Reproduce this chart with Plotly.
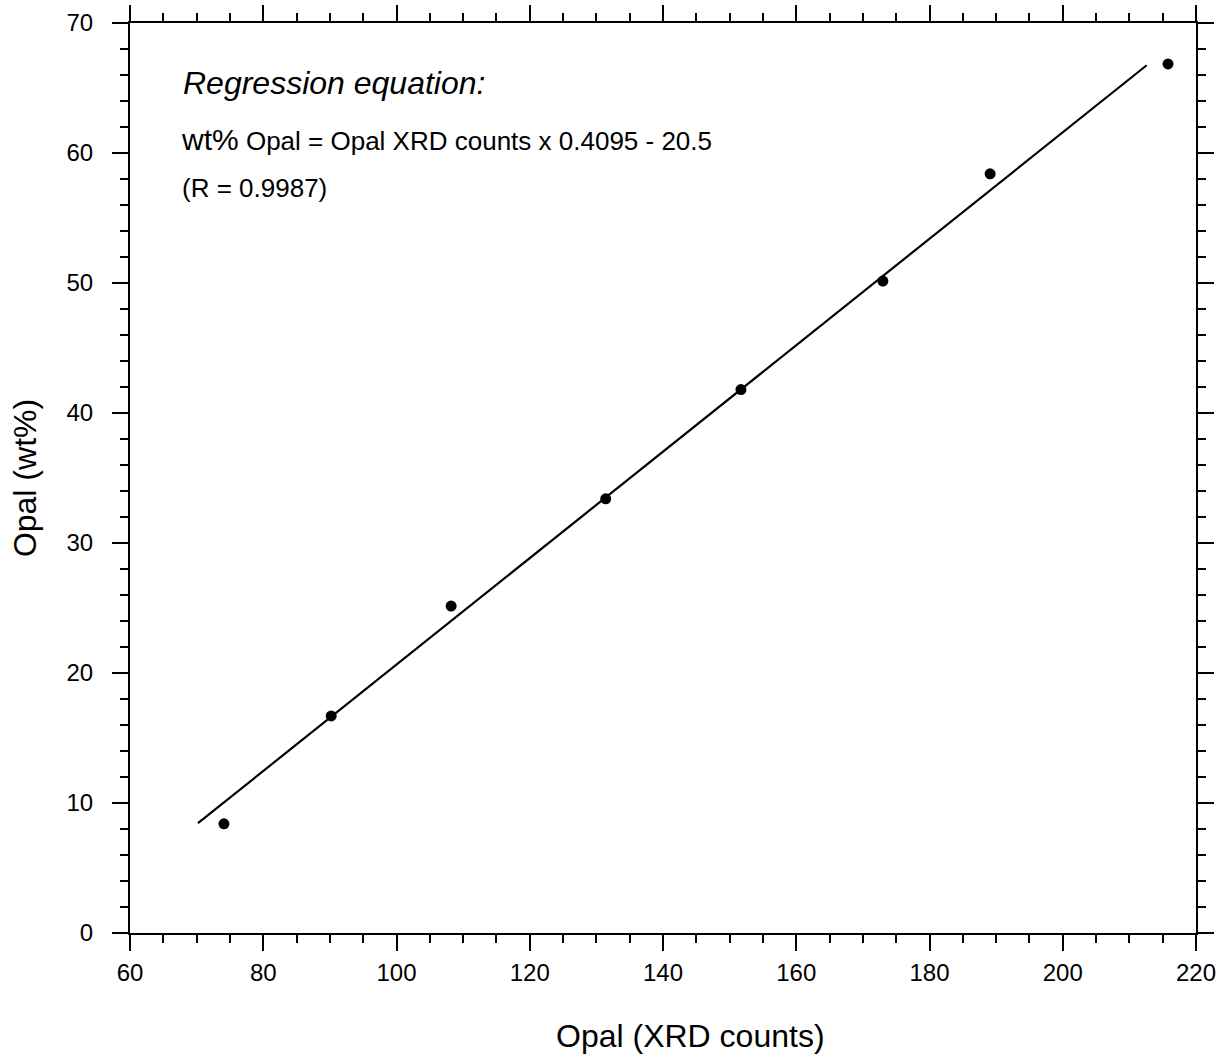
import plotly.graph_objects as go

# Data
xrd_counts = [74.1, 90.2, 108.2, 131.4, 151.7, 173.0, 189.1, 215.8]
opal_wt = [8.4, 16.7, 25.15, 33.4, 41.8, 50.15, 58.4, 66.85]

# Regression line endpoints
fit_x = [70.2, 212.6]
fit_y = [8.45, 66.75]

x_ticks = [60, 80, 100, 120, 140, 160, 180, 200, 220]
y_ticks = [0, 10, 20, 30, 40, 50, 60, 70]

FONT = "Liberation Sans, Arial, Helvetica, sans-serif"

# plot area in pixels (for placing paper-referenced annotations)
L, R, T, B = 130, 1196, 23, 933
def px(xp):
    return (xp - L) / (R - L)
def py(yp):
    return (B - yp) / (B - T)

fig = go.Figure()
fig.add_trace(go.Scatter(x=fit_x, y=fit_y, mode="lines",
                         line=dict(color="black", width=2.2), showlegend=False))
fig.add_trace(go.Scatter(x=xrd_counts, y=opal_wt, mode="markers",
                         marker=dict(color="black", size=11), showlegend=False))

axis_common = dict(
    showgrid=False, zeroline=False, showline=True, linecolor="black", linewidth=2,
    mirror="ticks", ticks="outside", ticklen=16, tickwidth=2, tickcolor="black",
    tickfont=dict(family=FONT, size=24, color="black"),
)

fig.update_xaxes(range=[60, 220], tickvals=x_ticks, ticktext=[str(v) for v in x_ticks],
                 minor=dict(dtick=5, tick0=60, ticks="outside", ticklen=8, tickwidth=2, tickcolor="black"),
                 ticklabelstandoff=1,
                 **axis_common)
fig.update_yaxes(range=[0, 70], tickvals=y_ticks, ticktext=[str(v) for v in y_ticks],
                 minor=dict(dtick=2, tick0=0, ticks="outside", ticklen=8, tickwidth=2, tickcolor="black"),
                 title=dict(text="Opal (wt%)", font=dict(family=FONT, size=32, color="black"), standoff=20),
                 ticklabelstandoff=14,
                 **axis_common)

# x-axis title (offset to the right of plot centre as in the reference)
fig.add_annotation(xref="paper", yref="paper", x=px(690), y=py(1036),
                   xanchor="center", yanchor="middle", showarrow=False,
                   text="Opal (XRD counts)",
                   font=dict(family=FONT, size=32, color="black"))

fig.add_annotation(xref="paper", yref="paper", x=px(181), y=py(83),
                   xanchor="left", yanchor="middle", showarrow=False,
                   text="<i>Regression equation:</i>",
                   font=dict(family=FONT, size=32, color="black"))
fig.add_annotation(xref="paper", yref="paper", x=px(179), y=py(139),
                   xanchor="left", yanchor="middle", showarrow=False,
                   text="<span style='font-size:30px'>wt%</span> Opal = Opal XRD counts x 0.4095 - 20.5",
                   font=dict(family=FONT, size=26, color="black"))
fig.add_annotation(xref="paper", yref="paper", x=px(180), y=py(188),
                   xanchor="left", yanchor="middle", showarrow=False,
                   text="(R = 0.9987)",
                   font=dict(family=FONT, size=26, color="black"))

fig.update_layout(
    width=1225, height=1060,
    margin=dict(l=L, r=1225 - R, t=T, b=1060 - B, autoexpand=False),
    plot_bgcolor="white", paper_bgcolor="white",
    font=dict(family=FONT, color="black"),
)

fig.write_html("out.html", config={"displayModeBar": False},
               post_script="document.body.style.margin='0';document.body.style.overflow='hidden';")
